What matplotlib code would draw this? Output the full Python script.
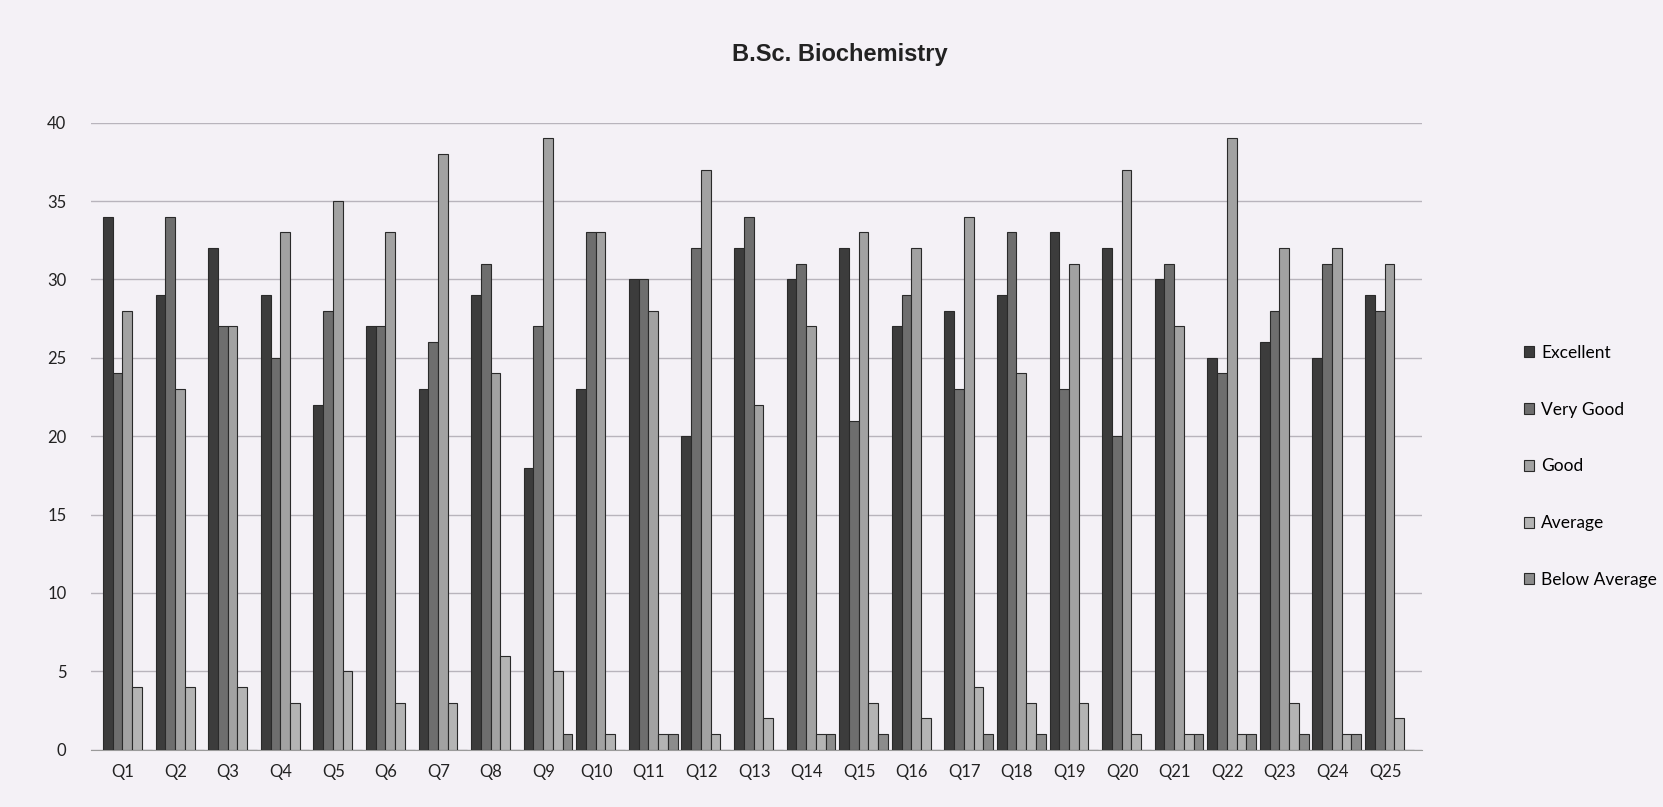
import matplotlib.pyplot as plt
import numpy as np

questions = ['Q%d' % i for i in range(1, 26)]
series = ['Excellent', 'Very Good', 'Good', 'Average', 'Below Average']

excellent = [34, 29, 32, 29, 22, 27, 23, 29, 18, 23, 30, 20, 32, 30, 32, 27, 28, 29, 33, 32, 30, 25, 26, 25, 29]
very_good = [24, 34, 27, 25, 28, 27, 26, 31, 27, 33, 30, 32, 34, 31, 21, 29, 23, 33, 23, 20, 31, 24, 28, 31, 28]
good = [28, 23, 27, 33, 35, 33, 38, 24, 39, 33, 28, 37, 22, 27, 33, 32, 34, 24, 31, 37, 27, 39, 32, 32, 31]
average = [4, 4, 4, 3, 5, 3, 3, 6, 5, 1, 1, 1, 2, 1, 3, 2, 4, 3, 3, 1, 1, 1, 3, 1, 2]
below_average = [0, 0, 0, 0, 0, 0, 0, 0, 1, 0, 1, 0, 0, 1, 1, 0, 1, 1, 0, 0, 1, 1, 1, 1, 0]

colors = ['#3c3c3c', '#6e6e6e', '#a2a2a2', '#b4b4b4', '#8c8c8c']
bg = '#f4f1f6'

fig = plt.figure(figsize=(16.63, 8.07), dpi=100, facecolor=bg)
ax = fig.add_axes([0.055, 0.071, 0.80, 0.777], facecolor=bg)

x = np.arange(len(questions))
w = 0.185
data = [excellent, very_good, good, average, below_average]
for i, (vals, name) in enumerate(zip(data, series)):
    ax.bar(x - 0.38 + w / 2 + i * w, vals, width=w, color=colors[i], edgecolor='#2a2a2a',
           linewidth=0.8, label=name, zorder=3)

ax.set_ylim(0, 40)
ax.set_xlim(-0.6, len(questions) - 0.3)
ax.set_yticks(range(0, 41, 5))
ax.set_xticks(x)
ax.set_xticklabels(questions, fontsize=12, family='Lato', color='#222222')
ax.tick_params(axis='y', labelsize=12, length=0, pad=18, labelcolor='#222222')
ax.tick_params(axis='x', length=0, pad=10)
for lab in ax.get_yticklabels():
    lab.set_family('Lato')
ax.grid(axis='y', color='#b8b4bc', linewidth=1.0, zorder=0)
for s in ['top', 'right', 'left']:
    ax.spines[s].set_visible(False)
ax.spines['bottom'].set_color('#9a9a9a')

fig.text(0.505, 0.932, 'B.Sc. Biochemistry', ha='center', va='center',
         fontsize=17, fontweight='bold', family='Liberation Sans', color='#222222')

leg = fig.legend(loc='upper left', bbox_to_anchor=(0.907, 0.592), frameon=False,
                 prop={'family': 'Lato', 'size': 12.5}, labelspacing=2.35,
                 handlelength=0.6, handleheight=0.6, handletextpad=0.4)

fig.savefig('out.png', dpi=100, facecolor=bg)
